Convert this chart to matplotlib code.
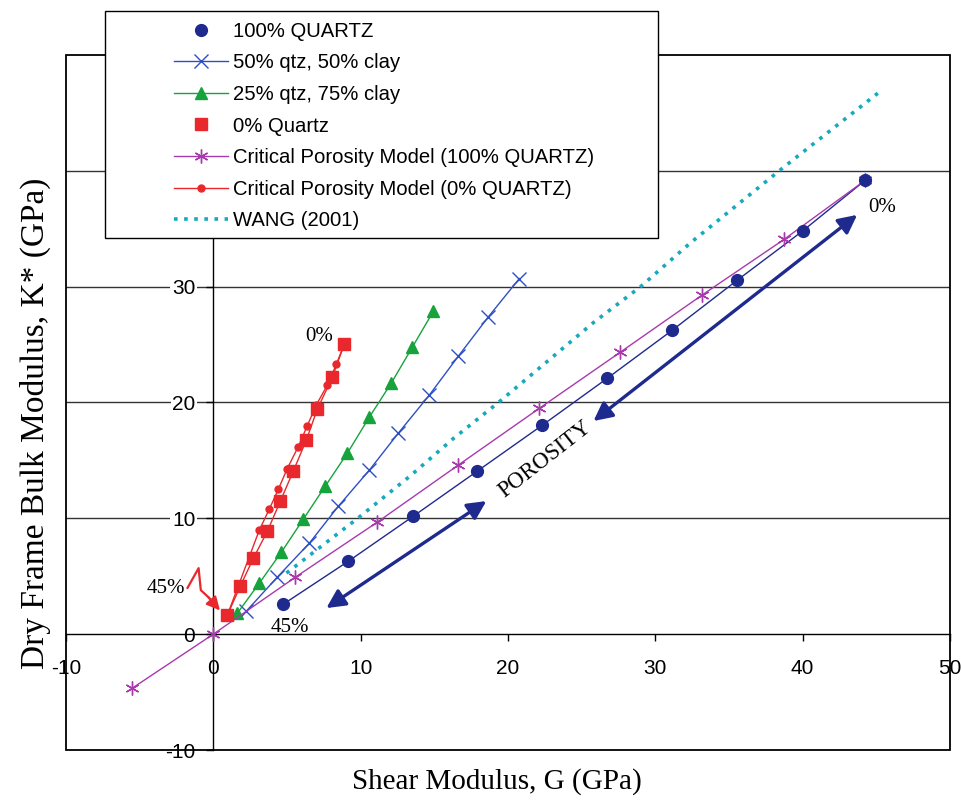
import matplotlib
matplotlib.use("Agg")
import matplotlib.pyplot as plt
from matplotlib.patches import Rectangle

plt.rcParams["axes.unicode_minus"] = False

# 100% quartz samples
qtz100_g = [4.75, 9.17, 13.58, 17.92, 22.34, 26.75, 31.16, 35.57, 39.99, 44.26]
qtz100_k = [2.59, 6.3, 10.19, 14.08, 18.05, 22.1, 26.25, 30.57, 34.8, 39.2]

# 50% qtz, 50% clay
qtz50_g = [2.24, 4.34, 6.52, 8.49, 10.59, 12.56, 14.66, 16.63, 18.67, 20.77]
qtz50_k = [1.99, 4.92, 7.86, 11.05, 14.16, 17.36, 20.64, 24.0, 27.4, 30.7]

# 25% qtz, 75% clay
qtz25_g = [1.63, 3.12, 4.62, 6.11, 7.6, 9.1, 10.59, 12.08, 13.51, 14.94]
qtz25_k = [1.81, 4.4, 7.08, 9.93, 12.78, 15.63, 18.74, 21.68, 24.78, 27.89]

# 0% quartz
qtz0_g = [0.95, 1.83, 2.72, 3.67, 4.55, 5.43, 6.31, 7.06, 8.08, 8.89]
qtz0_k = [1.64, 4.15, 6.56, 8.89, 11.49, 14.08, 16.75, 19.43, 22.19, 25.04]

# critical porosity model, 100% quartz
cp100_g = [-5.5, 0.0, 5.57, 11.13, 16.63, 22.13, 27.63, 33.2, 38.76, 44.26]
cp100_k = [-4.66, 0.0, 4.92, 9.67, 14.6, 19.5, 24.35, 29.3, 34.1, 39.2]

# critical porosity model, 0% quartz
cp0_g = [0.95, 3.12, 3.8, 4.41, 5.02, 5.77, 6.38, 6.99, 7.74, 8.35, 8.89]
cp0_k = [1.64, 8.98, 10.8, 12.5, 14.3, 16.2, 18.0, 19.8, 21.5, 23.3, 25.04]

# Wang (2001)
wang_g = [4.96, 9.8, 13.4, 16.3, 19.35, 25.8, 29.0, 32.4, 38.7, 45.1]
wang_k = [5.27, 10.0, 13.7, 16.9, 20.0, 26.9, 30.0, 33.8, 40.3, 46.7]

xticks = [-10, 0, 10, 20, 30, 40, 50]
yticks = [-10, 0, 10, 20, 30, 40, 50]
grid_k = [10, 20, 30, 40]

navy = "#1f2a8f"
blue = "#2e4fc2"
green = "#17a33c"
red = "#e8282c"
magenta = "#a93aad"
cyan = "#17a9bd"

serif = "Liberation Serif"
sans = "Liberation Sans"

fig = plt.figure(figsize=(9.62, 8.01), dpi=100)
ax = fig.add_axes([66/962, 1-750/801, 884/962, 695/801])
ax.set_xlim(-10, 50)
ax.set_ylim(-10, 50)

for k in grid_k:
    ax.axhline(k, color="#333333", lw=1.0, zorder=1)

ax.plot(qtz100_g, qtz100_k, color=navy, lw=1.0, zorder=3)
ax.plot(qtz100_g, qtz100_k, ls="none", marker="o", ms=8.5, color=navy,
        label="100% QUARTZ", zorder=4)
ax.plot(qtz50_g, qtz50_k, color=blue, lw=1.0, marker="x", ms=10, mew=1.0,
        label="50% qtz, 50% clay", zorder=3)
ax.plot(qtz25_g, qtz25_k, color=green, lw=1.0, marker="^", ms=9,
        label="25% qtz, 75% clay", zorder=3)
ax.plot(qtz0_g, qtz0_k, color=red, lw=1.0, zorder=3)
ax.plot(qtz0_g, qtz0_k, ls="none", marker="s", ms=8, color=red,
        label="0% Quartz", zorder=5)
ax.plot(cp100_g, cp100_k, color=magenta, lw=1.0, marker=(6, 2, 0), ms=10,
        mew=1.0, label="Critical Porosity Model (100% QUARTZ)", zorder=3)
ax.plot(cp0_g, cp0_k, color=red, lw=1.0, marker="o", ms=5,
        label="Critical Porosity Model (0% QUARTZ)", zorder=3)
ax.plot(wang_g, wang_k, color=cyan, lw=2.6, ls=(0, (1.0, 1.8)),
        label="WANG (2001)", zorder=3)

# porosity arrows
arr = dict(arrowstyle="<|-|>", color=navy, lw=2.4, mutation_scale=28,
           shrinkA=0, shrinkB=0)
ax.annotate("", xy=(18.53, 11.49), xytext=(7.67, 2.25), arrowprops=arr)
ax.annotate("", xy=(43.7, 36.2), xytext=(25.8, 18.4), arrowprops=arr)
ax.text(22.5, 15.1, "POROSITY", rotation=38, ha="center", va="center",
        fontsize=16.5, family=serif, zorder=6)

# red zig-zag arrow to the 45% point
ax.plot([-1.75, -1.0, -0.85, -0.3], [4.0, 5.7, 3.8, 3.15], color=red,
        lw=1.6, zorder=4)
ax.annotate("", xy=(0.45, 2.05), xytext=(-0.32, 3.17),
            arrowprops=dict(arrowstyle="-|>", color=red, lw=1.6,
                            mutation_scale=20, shrinkA=0, shrinkB=0))

ax.text(-1.9, 3.97, "45%", ha="right", va="center", fontsize=15, family=serif)
ax.text(5.2, 0.55, "45%", ha="center", va="center", fontsize=15, family=serif)
ax.text(7.2, 25.7, "0%", ha="center", va="center", fontsize=15, family=serif)
ax.text(45.4, 36.8, "0%", ha="center", va="center", fontsize=15, family=serif)

# axes through the origin plus outer frame
ax.spines["left"].set_position(("data", 0))
ax.spines["bottom"].set_position(("data", 0))
ax.spines["top"].set_visible(False)
ax.spines["right"].set_visible(False)
for s in ["left", "bottom"]:
    ax.spines[s].set_linewidth(1.0)
    ax.spines[s].set_zorder(2)
ax.add_patch(Rectangle((0, 0), 1, 1, transform=ax.transAxes, fill=False,
                       ec="black", lw=1.3, clip_on=False, zorder=2))

ax.set_xticks(xticks)
ax.set_yticks(yticks)
ax.tick_params(direction="out", length=5, width=1.0, labelsize=15)
ax.tick_params(axis="x", pad=13)
ax.tick_params(axis="y", pad=8)
for lab in ax.get_xticklabels() + ax.get_yticklabels():
    lab.set_family(sans)
    lab.set_bbox(dict(facecolor="white", edgecolor="none", pad=1))

ax.set_xlabel("Shear Modulus, G (GPa)", fontsize=21, family=serif, va="center")
ax.xaxis.set_label_coords(0.4876, -0.046)
ax.set_ylabel("Dry Frame Bulk Modulus, K* (GPa)", fontsize=24, family=serif,
              va="center")
ax.yaxis.set_label_coords(-0.035, 0.47)

# legend box sticks out above the plot
fig.patches.append(Rectangle((105/962, 1-238/801), 553/962, 227/801,
                             transform=fig.transFigure, facecolor="white",
                             edgecolor="black", lw=1.0, zorder=3))
handles, labels = ax.get_legend_handles_labels()
leg = fig.legend(handles, labels, loc="center left",
                 bbox_to_anchor=(174/962, 1-126/801),
                 bbox_transform=fig.transFigure, frameon=False, borderpad=0,
                 borderaxespad=0, handlelength=2.66, handletextpad=0.25,
                 labelspacing=0.62, prop={"family": sans, "size": 14.6})
leg.set_zorder(5)

fig.savefig("out.png", dpi=100)
